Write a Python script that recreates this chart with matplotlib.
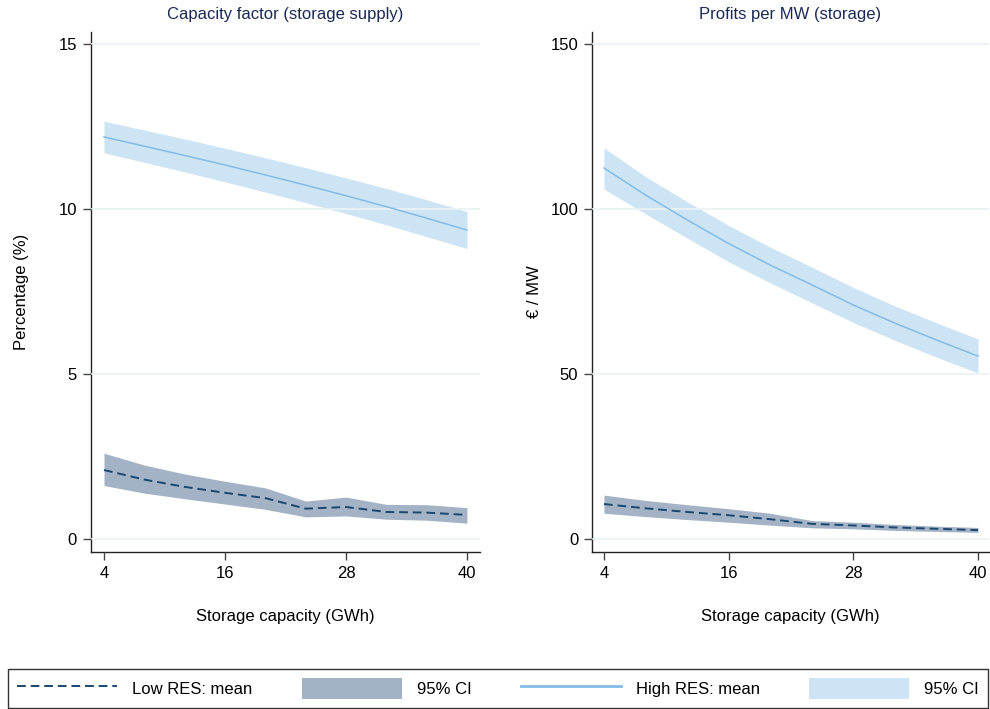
import numpy as np
import matplotlib
matplotlib.use("Agg")
import matplotlib.pyplot as plt
from matplotlib.lines import Line2D
from matplotlib.patches import Patch

plt.rcParams['font.family'] = ['Liberation Sans', 'DejaVu Sans']

# storage capacity (GWh)
capacity = [4, 8, 12, 16, 20, 24, 28, 32, 36, 40]

# capacity factor (%)
cf_low_mean = [2.09, 1.80, 1.58, 1.40, 1.24, 0.92, 0.97, 0.82, 0.80, 0.73]
cf_low_lo = [1.62, 1.39, 1.22, 1.06, 0.90, 0.67, 0.70, 0.60, 0.57, 0.48]
cf_low_hi = [2.60, 2.24, 1.97, 1.75, 1.55, 1.15, 1.27, 1.05, 1.04, 0.95]
cf_high_mean = [12.18, 11.90, 11.62, 11.33, 11.03, 10.72, 10.40, 10.07, 9.72, 9.36]
cf_high_lo = [11.70, 11.41, 11.12, 10.82, 10.51, 10.19, 9.86, 9.52, 9.16, 8.80]
cf_high_hi = [12.66, 12.39, 12.12, 11.84, 11.55, 11.25, 10.94, 10.62, 10.28, 9.92]

# profits per MW (EUR / MW)
pr_low_mean = [10.6, 9.3, 8.2, 7.2, 6.0, 4.6, 4.1, 3.5, 3.1, 2.7]
pr_low_lo = [7.8, 6.8, 5.9, 5.1, 4.2, 3.4, 3.1, 2.6, 2.3, 2.0]
pr_low_hi = [13.3, 11.7, 10.4, 9.2, 7.8, 5.6, 5.1, 4.4, 3.9, 3.5]
pr_high_mean = [112.4, 104.2, 96.7, 89.5, 83.0, 77.0, 70.9, 65.4, 60.3, 55.4]
pr_high_lo = [106.0, 98.5, 91.2, 84.0, 77.6, 71.6, 65.6, 60.2, 55.1, 50.3]
pr_high_hi = [118.5, 109.8, 102.2, 95.0, 88.4, 82.4, 76.2, 70.6, 65.5, 60.6]

xticks = [4, 16, 28, 40]

NAVY = '#1a476f'
LOW_CI = '#a3b3c5'
HIGH_LINE = '#84bbe6'
HIGH_CI = '#cde4f4'
GRID = '#eaf2f3'
TITLE = '#1b2a55'
FS = 12


def panel(ax, lm, ll, lh, hm, hl, hh, title, ylabel, yticks, xlim, ylim, ylab_x):
    ax.fill_between(capacity, ll, lh, color=LOW_CI, lw=0, zorder=1)
    ax.fill_between(capacity, hl, hh, color=HIGH_CI, lw=0, zorder=1)
    ax.plot(capacity, lm, color=NAVY, lw=1.4, dashes=(4.5, 2.5), zorder=3)
    ax.plot(capacity, hm, color=HIGH_LINE, lw=1.1, zorder=3)
    ax.set_xlim(*xlim)
    ax.set_ylim(*ylim)
    ax.set_xticks(xticks)
    ax.set_yticks(yticks)
    ax.set_axisbelow(False)
    ax.grid(axis='y', color=GRID, lw=1.3, zorder=2)
    for s in ['top', 'right']:
        ax.spines[s].set_visible(False)
    for s in ['left', 'bottom']:
        ax.spines[s].set_color('#222222')
        ax.spines[s].set_linewidth(1.0)
    ax.tick_params(length=6, width=1.0, color='#444444', labelsize=FS, pad=4)
    ax.set_title(title, fontsize=FS, color=TITLE, pad=9)
    ax.set_ylabel(ylabel, fontsize=FS)
    ax.yaxis.set_label_coords(ylab_x, 0.5)
    ax.set_xlabel('Storage capacity (GWh)', fontsize=FS, labelpad=20)


fig = plt.figure(figsize=(9.9, 7.09), dpi=100)
ax1 = fig.add_axes([0.0919, 0.2214, 0.3929, 0.7335])
ax2 = fig.add_axes([0.598, 0.2214, 0.401, 0.7335])

panel(ax1, cf_low_mean, cf_low_lo, cf_low_hi, cf_high_mean, cf_high_lo, cf_high_hi,
      'Capacity factor (storage supply)', 'Percentage (%)', [0, 5, 10, 15],
      (2.71, 41.29), (-0.394, 15.36), -0.16)
panel(ax2, pr_low_mean, pr_low_lo, pr_low_hi, pr_high_mean, pr_high_lo, pr_high_hi,
      'Profits per MW (storage)', '€ / MW', [0, 50, 100, 150],
      (2.85, 41.06), (-3.94, 153.6), -0.125)

handles = [
    Line2D([], [], color=NAVY, lw=1.4, dashes=(4.5, 2.5)),
    Patch(facecolor=LOW_CI, edgecolor='none'),
    Line2D([], [], color=HIGH_LINE, lw=2.0),
    Patch(facecolor=HIGH_CI, edgecolor='none'),
]
labels = ['Low RES: mean', '95% CI', 'High RES: mean', '95% CI']
leg = fig.legend(handles, labels, ncol=4, loc='lower left', mode='expand',
                 bbox_to_anchor=(8 / 990, 1 / 709, 980 / 990, 47 / 709),
                 fontsize=FS, handlelength=6, handleheight=1.55,
                 handletextpad=0.9, columnspacing=2.5, borderaxespad=0,
                 fancybox=False, frameon=True, borderpad=0.55)
leg.get_frame().set_edgecolor('black')
leg.get_frame().set_linewidth(1.0)

fig.savefig('out.png', dpi=100)
